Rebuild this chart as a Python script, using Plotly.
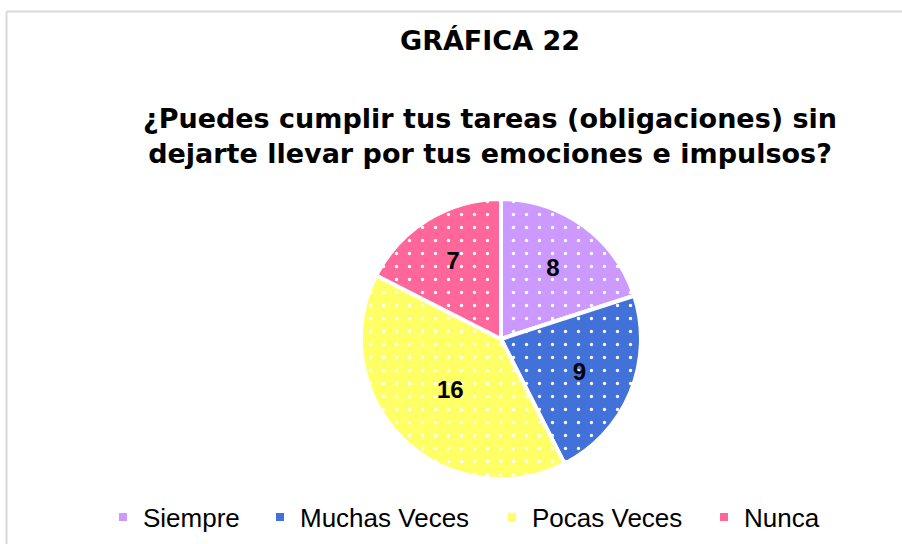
import plotly.graph_objects as go

categories = ["Siempre", "Muchas Veces", "Pocas Veces", "Nunca"]
values = [8, 9, 16, 7]
colors = ["#CC99FF", "#4271DA", "#FFFF66", "#FF6699"]
title_main = "GRÁFICA 22"
title_question = "¿Puedes cumplir tus tareas (obligaciones) sin<br>dejarte llevar por tus emociones e impulsos?"

W, H = 902, 544
legend_text_x = [143, 300, 532, 744]  # px where each legend label starts

fig = go.Figure()
fig.add_trace(go.Pie(
    labels=categories,
    values=values,
    sort=False,
    direction="clockwise",
    rotation=0,
    textinfo="value",
    textposition="inside",
    insidetextorientation="horizontal",
    textfont=dict(family="Liberation Sans, Arial", size=24, color="black", weight="bold"),
    marker=dict(
        colors=colors,
        line=dict(color="white", width=4),
        pattern=dict(shape=".", fgcolor="white", bgcolor=colors, size=13, solidity=0.05, fillmode="replace"),
    ),
    domain=dict(x=[361 / W, 641 / W], y=[1 - 479 / H, 1 - 199 / H]),
    hoverinfo="label+value",
    showlegend=False,
))

legend_layouts = {}
for i, (cat, col) in enumerate(zip(categories, colors)):
    lname = "legend" if i == 0 else f"legend{i + 1}"
    fig.add_trace(go.Scatter(x=[None], y=[None], mode="markers", name=cat,
                             marker=dict(symbol="square", size=8, color=col),
                             showlegend=True, hoverinfo="skip", legend=lname))
    legend_layouts[lname] = dict(
        orientation="h", x=(legend_text_x[i] - 40) / W, xanchor="left",
        y=1 - 517 / H, yanchor="middle",
        font=dict(family="Liberation Sans, Arial", size=26, color="black"),
        itemwidth=30, bgcolor="rgba(0,0,0,0)", borderwidth=0,
    )

fig.add_annotation(text="<b>" + title_main + "</b>", x=490 / W, y=1 - 41 / H,
                   xref="paper", yref="paper", showarrow=False,
                   font=dict(family="DejaVu Sans", size=27, color="black"),
                   xanchor="center", yanchor="middle")
fig.add_annotation(text="<b>" + title_question + "</b>", x=490 / W, y=1 - 136 / H,
                   xref="paper", yref="paper", showarrow=False,
                   font=dict(family="DejaVu Sans", size=27, color="black"),
                   xanchor="center", yanchor="middle")

# chart-area border (top and left edges visible)
fig.add_shape(type="line", xref="paper", yref="paper", x0=6.5 / W, x1=1.0, y0=1 - 11.5 / H, y1=1 - 11.5 / H,
              line=dict(color="#D9D9D9", width=2))
fig.add_shape(type="line", xref="paper", yref="paper", x0=6.5 / W, x1=6.5 / W, y0=0, y1=1 - 11.5 / H,
              line=dict(color="#D9D9D9", width=2))

fig.update_layout(
    width=W, height=H,
    margin=dict(l=0, r=0, t=0, b=0),
    paper_bgcolor="white",
    plot_bgcolor="white",
    xaxis=dict(visible=False),
    yaxis=dict(visible=False),
    showlegend=True,
    **legend_layouts,
)

fig.write_html("out.html", config={"displayModeBar": False},
               post_script="document.body.style.margin='0';")
